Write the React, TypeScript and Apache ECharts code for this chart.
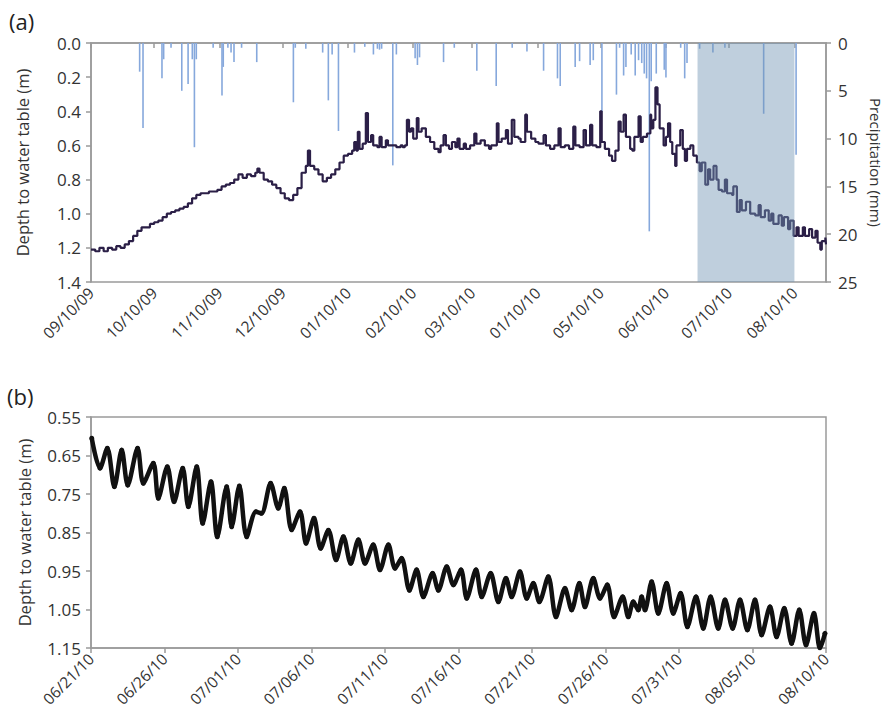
import React, { useEffect, useRef } from "react";
import * as echarts from "echarts";

// ---------- Panel (a) ----------
// days since 09/10/09
const topTickDays = [0, 30, 61, 91, 122, 153, 181, 212, 242, 273, 303, 334];
const topTickLabels = ["09/10/09", "10/10/09", "11/10/09", "12/10/09", "01/10/10", "02/10/10", "03/10/10", "01/10/10", "05/10/10", "06/10/10", "07/10/10", "08/10/10"];
const depthTicks = [0, 0.2, 0.4, 0.6, 0.8, 1.0, 1.2, 1.4];
const precipTicks = [0, 5, 10, 15, 20, 25];

const topDays = [0, 2, 4, 6, 8, 10, 12, 14, 16, 18, 20, 22, 24, 26, 28, 30, 32, 34, 36, 38, 40, 42, 44, 46, 48, 50, 52, 54, 56, 58, 60, 62, 64, 66, 68, 70, 72, 74, 76, 78, 79, 80, 82, 84, 86, 88, 90, 92, 94, 96, 98, 100, 102, 103, 104, 106, 108, 110, 112, 114, 116, 118, 120, 122, 124, 125, 126, 126.7, 127.5, 129, 130.5, 131.5, 133, 134, 136, 137, 138, 140, 141, 143, 145, 147, 148, 149, 150, 151, 152, 153, 154.7, 155.5, 157, 159, 161, 163, 165, 166, 167.4, 168.5, 170, 171.4, 173, 174, 175, 177, 178, 180, 182, 183, 185, 187, 189, 190, 192.7, 193.5, 195, 197, 198, 199.8, 201, 203, 204, 206.2, 207, 209, 211, 212.5, 214.9, 216, 218, 220, 222, 223, 225, 227, 229, 230, 232, 233.9, 235, 237, 238, 240, 241.8, 242.5, 244, 246, 247.4, 249, 250.5, 251.5, 252.9, 254, 256, 257, 258, 260, 261, 262, 264, 265.6, 266, 267, 268, 269, 270, 271.9, 273, 274, 275, 276, 277.4, 278, 279.8, 281, 282, 283, 284.6, 286, 287.7, 289, 290, 291.7, 293, 294, 295.6, 297, 298, 299.6, 301, 302, 304.4, 305, 306.7, 308, 309, 311, 313, 315.4, 317, 318, 320, 321.8, 323, 324, 326.5, 328, 329, 331, 332, 333.6, 335, 336, 338, 339, 341, 342.4, 344, 345, 346.3, 347, 348.7, 349];
const topDepth = [1.21, 1.22, 1.2, 1.22, 1.2, 1.21, 1.19, 1.2, 1.18, 1.16, 1.13, 1.1, 1.08, 1.08, 1.06, 1.05, 1.04, 1.02, 1.0, 0.99, 0.98, 0.97, 0.96, 0.94, 0.91, 0.89, 0.88, 0.88, 0.87, 0.87, 0.86, 0.84, 0.83, 0.82, 0.8, 0.77, 0.79, 0.77, 0.78, 0.76, 0.735, 0.76, 0.8, 0.81, 0.83, 0.85, 0.88, 0.91, 0.92, 0.89, 0.85, 0.76, 0.72, 0.63, 0.72, 0.74, 0.77, 0.81, 0.79, 0.77, 0.74, 0.7, 0.66, 0.65, 0.63, 0.58, 0.63, 0.52, 0.62, 0.59, 0.41, 0.58, 0.54, 0.6, 0.61, 0.55, 0.61, 0.57, 0.6, 0.6, 0.61, 0.6, 0.61, 0.6, 0.45, 0.52, 0.5, 0.56, 0.44, 0.52, 0.5, 0.55, 0.58, 0.62, 0.64, 0.6, 0.54, 0.6, 0.62, 0.58, 0.61, 0.56, 0.62, 0.59, 0.62, 0.6, 0.53, 0.59, 0.57, 0.6, 0.62, 0.6, 0.47, 0.58, 0.56, 0.51, 0.59, 0.45, 0.55, 0.56, 0.58, 0.42, 0.52, 0.56, 0.58, 0.59, 0.54, 0.6, 0.62, 0.6, 0.5, 0.61, 0.6, 0.62, 0.49, 0.6, 0.61, 0.51, 0.6, 0.48, 0.6, 0.61, 0.4, 0.58, 0.62, 0.66, 0.69, 0.63, 0.46, 0.52, 0.42, 0.55, 0.62, 0.63, 0.55, 0.43, 0.58, 0.55, 0.53, 0.42, 0.5, 0.45, 0.26, 0.36, 0.5, 0.6, 0.55, 0.47, 0.58, 0.65, 0.72, 0.6, 0.51, 0.62, 0.69, 0.62, 0.6, 0.66, 0.7, 0.75, 0.7, 0.83, 0.74, 0.8, 0.72, 0.8, 0.86, 0.87, 0.8, 0.88, 0.89, 0.84, 0.99, 0.92, 0.98, 0.93, 1.0, 1.01, 0.95, 1.02, 0.98, 1.04, 1.0, 1.06, 1.01, 1.07, 1.02, 1.09, 1.04, 1.13, 1.08, 1.13, 1.08, 1.13, 1.09, 1.14, 1.1, 1.17, 1.21, 1.16, 1.14, 1.18];

const rainDays = [23.1, 24.7, 33.7, 34.5, 38, 43.1, 46.1, 48.1, 49.1, 50, 58, 62.2, 62.8, 65, 66.5, 67.9, 71.5, 78.7, 96.1, 97, 102, 110, 112.7, 114.5, 117.5, 125.1, 130, 134.1, 136, 137, 138, 143.3, 145, 153.9, 155, 156, 167.4, 172.5, 183.2, 192.4, 200, 207, 214.9, 221.5, 222.8, 229.9, 232, 237, 238.5, 242.6, 249.5, 251, 252.9, 254, 256.5, 258.4, 260, 261.5, 262.7, 263.8, 265.1, 266, 268.4, 272.2, 273, 280, 281.9, 283, 289, 295.3, 301, 319.4, 334.8];
const rainMm = [3.0, 8.9, 3.7, 1.7, 0.5, 5.0, 4.3, 1.7, 10.9, 1.7, 0.5, 5.5, 2.5, 0.5, 1.0, 2.0, 0.5, 2.0, 6.2, 0.5, 0.6, 1.0, 6.0, 1.2, 9.2, 1.0, 0.4, 1.2, 0.6, 0.7, 0.6, 12.8, 1.2, 1.6, 2.3, 1.5, 2.0, 0.5, 2.9, 4.5, 0.5, 0.9, 2.9, 3.7, 4.5, 2.5, 1.9, 2.3, 1.8, 7.2, 5.4, 0.5, 3.4, 2.5, 1.2, 3.4, 1.8, 2.1, 3.2, 3.7, 19.7, 4.0, 3.2, 2.8, 3.6, 0.5, 3.7, 2.1, 0.6, 1.0, 0.5, 7.4, 11.7];

const shadeStart = 288;
const shadeEnd = 334;

// ---------- Panel (b) ----------
// days since 06/21/10
const botTickDays = [0, 5, 10, 15, 20, 25, 30, 35, 40, 45, 50];
const botTickLabels = ["06/21/10", "06/26/10", "07/01/10", "07/06/10", "07/11/10", "07/16/10", "07/21/10", "07/26/10", "07/31/10", "08/05/10", "08/10/10"];
const botDepthTicks = [0.55, 0.65, 0.75, 0.85, 0.95, 1.05, 1.15];

const botDays = [0.05, 0.61, 1.11, 1.59, 2.09, 2.5, 3.17, 3.56, 4.24, 4.58, 5.19, 5.65, 6.24, 6.62, 7.19, 7.6, 8.16, 8.59, 9.23, 9.57, 10.09, 10.59, 11.22, 11.6, 12.22, 12.74, 13.15, 13.65, 14.22, 14.63, 15.17, 15.62, 16.15, 16.67, 17.17, 17.67, 18.19, 18.64, 19.2, 19.66, 20.23, 20.68, 21.13, 21.66, 22.15, 22.61, 23.24, 23.63, 24.2, 24.65, 25.17, 25.56, 26.19, 26.58, 27.19, 27.71, 28.23, 28.62, 29.18, 29.64, 30.09, 30.5, 31.11, 31.63, 32.24, 32.7, 33.22, 33.6, 34.17, 34.63, 35.12, 35.58, 36.17, 36.55, 36.89, 37.23, 37.46, 37.69, 38.14, 38.59, 39.16, 39.61, 40.11, 40.57, 41.16, 41.65, 42.15, 42.67, 43.13, 43.65, 44.15, 44.65, 45.17, 45.62, 46.19, 46.64, 47.16, 47.66, 48.18, 48.64, 49.18, 49.59, 49.93];
const botDepth = [0.605, 0.683, 0.631, 0.731, 0.636, 0.727, 0.631, 0.722, 0.67, 0.761, 0.679, 0.77, 0.683, 0.783, 0.679, 0.826, 0.718, 0.861, 0.731, 0.835, 0.729, 0.861, 0.796, 0.8, 0.722, 0.787, 0.735, 0.843, 0.796, 0.878, 0.813, 0.891, 0.844, 0.921, 0.861, 0.93, 0.869, 0.93, 0.882, 0.947, 0.882, 0.943, 0.917, 1.0, 0.947, 1.017, 0.956, 1.0, 0.939, 0.986, 0.947, 1.021, 0.947, 1.017, 0.956, 1.03, 0.969, 1.017, 0.952, 1.021, 0.982, 1.03, 0.965, 1.069, 0.995, 1.051, 0.982, 1.043, 0.969, 1.021, 0.986, 1.069, 1.017, 1.069, 1.03, 1.051, 1.017, 1.051, 0.978, 1.06, 0.982, 1.06, 1.008, 1.095, 1.017, 1.099, 1.017, 1.099, 1.025, 1.099, 1.025, 1.103, 1.025, 1.116, 1.043, 1.121, 1.047, 1.138, 1.051, 1.142, 1.06, 1.151, 1.112];

const FONT = "'Open Sans', 'Noto Sans', sans-serif";
const AXIS_GRAY = "#9a9a9a";
const TEXT = "#333333";

export default function App() {
  const ref = useRef<HTMLDivElement>(null);

  useEffect(() => {
    if (!ref.current) return;
    const chart = echarts.init(ref.current, undefined, { renderer: "svg" });

    const axisLine = { show: true, lineStyle: { color: AXIS_GRAY, width: 1.5 } };
    const axisTick = (vals: number[]) => ({ show: true, length: 5, customValues: vals, lineStyle: { color: AXIS_GRAY, width: 1.5 } });
    const nameStyle = { fontSize: 16.5, color: TEXT, fontFamily: FONT };

    const option: any = {
      animation: false,
      textStyle: { fontFamily: FONT },
      title: [
        { text: "(a)", left: 4, top: 5, textStyle: { fontFamily: FONT, fontSize: 22, fontWeight: "normal", color: "#222" } },
        { text: "(b)", left: 2, top: 380, textStyle: { fontFamily: FONT, fontSize: 22, fontWeight: "normal", color: "#222" } },
      ],
      grid: [
        { left: 91, top: 43, width: 735, height: 239, show: true, borderColor: AXIS_GRAY, borderWidth: 1.5, backgroundColor: "transparent", outerBoundsMode: "none", containLabel: false },
        { left: 91, top: 417, width: 735, height: 231, show: true, borderColor: AXIS_GRAY, borderWidth: 1.5, backgroundColor: "transparent", outerBoundsMode: "none", containLabel: false },
      ],
      xAxis: [
        {
          type: "value", gridIndex: 0, min: 0, max: 349, position: "bottom",
          axisLine, axisTick: axisTick(topTickDays), splitLine: { show: false },
          axisLabel: {
            customValues: topTickDays, rotate: 45, margin: 8, fontSize: 15.5, color: TEXT, fontFamily: FONT,
            formatter: (v: number) => { const i = topTickDays.indexOf(v); return i >= 0 ? topTickLabels[i] : ""; },
          },
        },
        {
          type: "value", gridIndex: 1, min: 0, max: 50, position: "bottom",
          axisLine, axisTick: axisTick(botTickDays), splitLine: { show: false },
          axisLabel: {
            customValues: botTickDays, rotate: 45, margin: 8, fontSize: 15.5, color: TEXT, fontFamily: FONT,
            formatter: (v: number) => { const i = botTickDays.indexOf(v); return i >= 0 ? botTickLabels[i] : ""; },
          },
        },
      ],
      yAxis: [
        {
          type: "value", gridIndex: 0, min: 0, max: 1.4, inverse: true, position: "left",
          axisLine, axisTick: axisTick(depthTicks), splitLine: { show: false },
          axisLabel: { customValues: depthTicks, margin: 10, fontSize: 17, color: TEXT, fontFamily: FONT, formatter: (v: number) => v.toFixed(1) },
          name: "Depth to water table (m)", nameLocation: "middle", nameGap: 60, nameRotate: 90,
          nameTextStyle: nameStyle,
        },
        {
          type: "value", gridIndex: 0, min: 0, max: 25, inverse: true, position: "right",
          axisLine, axisTick: axisTick(precipTicks), splitLine: { show: false },
          axisLabel: { customValues: precipTicks, margin: 12, fontSize: 17, color: TEXT, fontFamily: FONT },
          name: "Precipitation (mm)", nameLocation: "middle", nameGap: 32, nameRotate: -90,
          nameTextStyle: { ...nameStyle, fontSize: 15 },
        },
        {
          type: "value", gridIndex: 1, min: 0.55, max: 1.15, inverse: true, position: "left",
          axisLine, axisTick: axisTick(botDepthTicks), splitLine: { show: false },
          axisLabel: { customValues: botDepthTicks, margin: 10, fontSize: 17, color: TEXT, fontFamily: FONT, formatter: (v: number) => v.toFixed(2) },
          name: "Depth to water table (m)", nameLocation: "middle", nameGap: 58, nameRotate: 90,
          nameTextStyle: nameStyle,
        },
      ],
      series: [
        {
          type: "bar", xAxisIndex: 0, yAxisIndex: 1, barWidth: 1.6, z: 2,
          itemStyle: { color: "#86a8dc" },
          data: rainDays.map((d, i) => [d, rainMm[i]]),
        },
        {
          type: "line", xAxisIndex: 0, yAxisIndex: 0, step: "end", symbol: "none", z: 3,
          lineStyle: { color: "#2b1f47", width: 2.2 },
          data: topDays.map((d, i) => [d, topDepth[i]]),
        },
        {
          type: "custom", xAxisIndex: 0, yAxisIndex: 0, z: 6, silent: true,
          data: [[shadeStart, shadeEnd]],
          encode: { x: [0, 1] },
          renderItem: (_p: any, api: any) => {
            const p1 = api.coord([api.value(0), 0]);
            const p2 = api.coord([api.value(1), 1.4]);
            return {
              type: "rect",
              shape: { x: p1[0], y: p1[1], width: p2[0] - p1[0], height: p2[1] - p1[1] },
              style: { fill: "rgba(114,149,180,0.45)" },
            };
          },
        },
        {
          type: "line", xAxisIndex: 1, yAxisIndex: 2, symbol: "circle", symbolSize: 5, smooth: 0.3,
          itemStyle: { color: "#111" },
          lineStyle: { color: "#111", width: 4.5 },
          data: botDays.map((d, i) => [d, botDepth[i]]),
        },
      ],
    };

    chart.setOption(option);
    return () => chart.dispose();
  }, []);

  return <div ref={ref} style={{ position: "fixed", left: 0, top: 0, width: 885, height: 717, background: "#fff" }} />;
}
